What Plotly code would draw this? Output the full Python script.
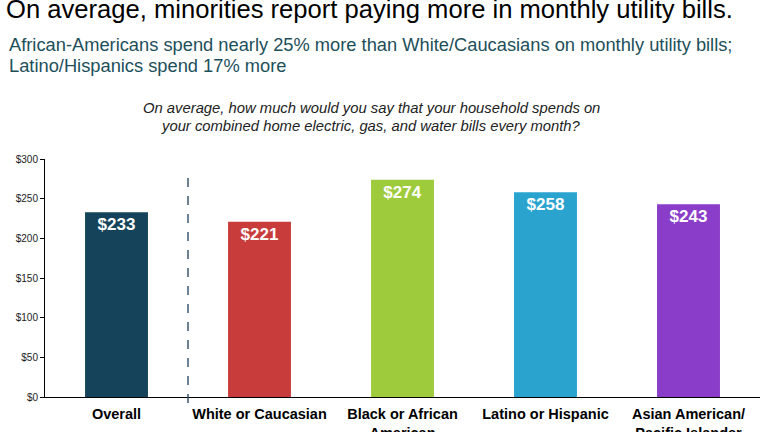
import plotly.graph_objects as go

# data
categories = ["Overall", "White or Caucasian", "Black or African<br>American",
              "Latino or Hispanic", "Asian American/<br>Pacific Islander"]
spend = [233, 221, 274, 258, 243]
bar_colors = ["#15435a", "#c93c3c", "#9dcb3b", "#2aa3cf", "#8a3dc8"]
y_ticks = [0, 50, 100, 150, 200, 250, 300]
y_tick_text = ["$" + str(v) for v in y_ticks]

title = "On average, minorities report paying more in monthly utility bills."
sub1 = "African-Americans spend nearly 25% more than White/Caucasians on monthly utility bills;"
sub2 = "Latino/Hispanics spend 17% more"
q1 = "On average, how much would you say that your household spends on"
q2 = "your combined home electric, gas, and water bills every month?"

FONT = "Arial, Liberation Sans"

fig = go.Figure(go.Bar(
    x=categories, y=spend,
    marker=dict(color=bar_colors, line=dict(width=0)),
    width=0.44,
    text=["$" + str(v) for v in spend],
    textposition="inside",
    insidetextanchor="end",
    constraintext="none",
    textfont=dict(family=FONT, size=17, color="white", weight="bold"),
))

# plot area: x 45..760 px, y 159..397 px
def py(px):
    return (397 - px) / 238.0

def pxx(px):
    return (px - 45) / 715.0

anns = [
    dict(text=title, x=pxx(4), y=py(9), size=25.6, color="#000000"),
    dict(text=sub1, x=pxx(7), y=py(45), size=18.3, color="#1d4f5b"),
    dict(text=sub2, x=pxx(7), y=py(65), size=18.3, color="#1d4f5b"),
]
for a in anns:
    fig.add_annotation(text=a["text"], xref="paper", yref="paper", x=a["x"], y=a["y"],
                       xanchor="left", yanchor="middle", showarrow=False,
                       font=dict(family=FONT, size=a["size"], color=a["color"]))
for txt, ypix in [(q1, 108), (q2, 126)]:
    fig.add_annotation(text="<i>" + txt + "</i>", xref="paper", yref="paper", x=pxx(371), y=py(ypix),
                       xanchor="center", yanchor="middle", showarrow=False,
                       font=dict(family=FONT, size=14.8, color="#222222"))

# dashed divider between Overall and the groups
fig.add_shape(type="line", xref="x", yref="paper", x0=0.5, x1=0.5, y0=py(403), y1=py(170),
              line=dict(color="#1f3f5a", width=1.3, dash="dash"))

fig.update_layout(
    width=768, height=432,
    margin=dict(l=45, r=8, t=159, b=35),
    paper_bgcolor="white", plot_bgcolor="white",
    showlegend=False,
    xaxis=dict(showline=True, linecolor="#000000", linewidth=1, showgrid=False,
               tickfont=dict(family=FONT, size=14.5, color="#000000", weight="bold"),
               ticklabelstandoff=4, automargin=False, fixedrange=True),
    yaxis=dict(range=[0, 300], tickvals=y_ticks, ticktext=y_tick_text, showline=True,
               linecolor="#000000", linewidth=1, showgrid=False, zeroline=False,
               ticks="outside", ticklen=4, tickcolor="#000000", automargin=False,
               tickfont=dict(family=FONT, size=10, color="#222222")),
)

# drop the default page margin so the figure sits at the window's corner
fig.write_html("out.html", config={"displayModeBar": False},
               post_script="document.body.style.margin='0px';")
